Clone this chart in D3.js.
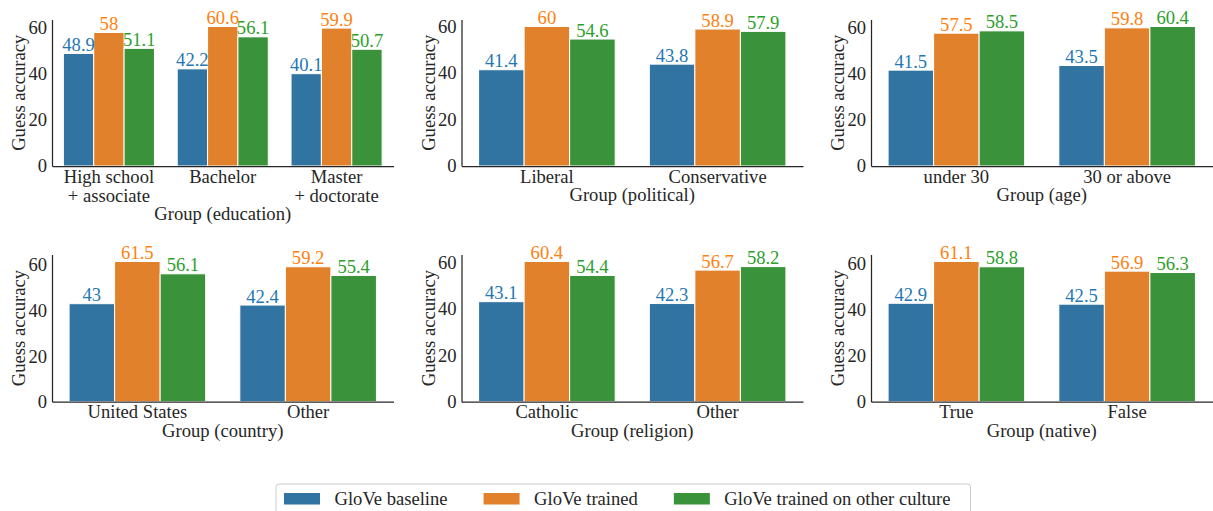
<!DOCTYPE html>
<html>
<head>
<meta charset="utf-8">
<script src="https://cdn.jsdelivr.net/npm/d3@7"></script>
<style>
  body { margin: 0; background: #fff; }
  svg { display: block; }
</style>
</head>
<body>
<div id="chart"></div>
<script>
// Chart data, one small set per panel
const seriesNames = ["GloVe baseline", "GloVe trained", "GloVe trained on other culture"];
const yTicks = [0, 20, 40, 60];

const educationGroups = ["High school\n+ associate", "Bachelor", "Master\n+ doctorate"];
const educationBaseline = [48.9, 42.2, 40.1];
const educationTrained = [58, 60.6, 59.9];
const educationOther = [51.1, 56.1, 50.7];

const politicalGroups = ["Liberal", "Conservative"];
const politicalBaseline = [41.4, 43.8];
const politicalTrained = [60, 58.9];
const politicalOther = [54.6, 57.9];

const ageGroups = ["under 30", "30 or above"];
const ageBaseline = [41.5, 43.5];
const ageTrained = [57.5, 59.8];
const ageOther = [58.5, 60.4];

const countryGroups = ["United States", "Other"];
const countryBaseline = [43, 42.4];
const countryTrained = [61.5, 59.2];
const countryOther = [56.1, 55.4];

const religionGroups = ["Catholic", "Other"];
const religionBaseline = [43.1, 42.3];
const religionTrained = [60.4, 56.7];
const religionOther = [54.4, 58.2];

const nativeGroups = ["True", "False"];
const nativeBaseline = [42.9, 42.5];
const nativeTrained = [61.1, 56.9];
const nativeOther = [58.8, 56.3];

const panels = [
  { title: "Group (education)", groups: educationGroups, values: [educationBaseline, educationTrained, educationOther] },
  { title: "Group (political)", groups: politicalGroups, values: [politicalBaseline, politicalTrained, politicalOther] },
  { title: "Group (age)", groups: ageGroups, values: [ageBaseline, ageTrained, ageOther] },
  { title: "Group (country)", groups: countryGroups, values: [countryBaseline, countryTrained, countryOther] },
  { title: "Group (religion)", groups: religionGroups, values: [religionBaseline, religionTrained, religionOther] },
  { title: "Group (native)", groups: nativeGroups, values: [nativeBaseline, nativeTrained, nativeOther] }
];

// Layout
const width = 1213, height = 511;
const colLeft = [52, 461.5, 871], panelWidth = 341.5;
const rowTop = [19.5, 254.5], rowBottom = [166, 401.7];
const fontSize = 18.6;
const serif = "'Liberation Serif', 'Times New Roman', serif";
const ink = "#262626";

const barColor = d3.scaleOrdinal().domain(seriesNames).range(["#3274a1", "#e1812c", "#3a923a"]);
const labelColor = d3.scaleOrdinal().domain(seriesNames).range(["#1f77b4", "#ff7f0e", "#2ca02c"]);

const svg = d3.select("#chart")
  .append("svg")
  .attr("width", width)
  .attr("height", height);

panels.forEach((p, k) => {
  const left = colLeft[k % 3], top = rowTop[Math.floor(k / 3)], bottom = rowBottom[Math.floor(k / 3)];
  const g = svg.append("g");

  // flat rows for the bars
  const rows = [];
  p.groups.forEach((grp, i) => {
    seriesNames.forEach((s, j) => rows.push({ group: grp, series: s, value: p.values[j][i] }));
  });

  const x0 = d3.scaleBand()
    .domain(p.groups)
    .range([left, left + panelWidth])
    .paddingInner(0.2)
    .paddingOuter(0.1);

  const x1 = d3.scaleBand()
    .domain(seriesNames)
    .range([0, x0.bandwidth()]);

  const y = d3.scaleLinear()
    .domain([0, d3.max(rows, d => d.value) * 1.05])
    .range([bottom, top]);

  // bars
  g.selectAll("rect.bar")
    .data(rows)
    .join("rect")
    .attr("class", "bar")
    .attr("x", d => x0(d.group) + x1(d.series))
    .attr("y", d => y(d.value))
    .attr("width", x1.bandwidth())
    .attr("height", d => y(0) - y(d.value))
    .attr("fill", d => barColor(d.series))
    .attr("stroke", "#fff")
    .attr("stroke-width", 1);

  // value labels
  g.selectAll("text.val")
    .data(rows)
    .join("text")
    .attr("class", "val")
    .attr("x", d => x0(d.group) + x1(d.series) + x1.bandwidth() / 2)
    .attr("y", d => y(d.value) - 2.5)
    .attr("text-anchor", "middle")
    .style("font-family", serif)
    .style("font-size", fontSize + "px")
    .attr("fill", d => labelColor(d.series))
    .text(d => String(d.value));

  // y axis (no tick marks)
  const yAxis = g.append("g")
    .attr("transform", `translate(${left},0)`)
    .call(d3.axisLeft(y).tickValues(yTicks).tickSize(0).tickPadding(5));
  yAxis.select(".domain").attr("stroke", ink).attr("stroke-width", 1.25);
  yAxis.selectAll("text")
    .style("font-family", serif)
    .style("font-size", fontSize + "px")
    .attr("fill", ink);

  // x axis
  const xAxis = g.append("g")
    .attr("transform", `translate(0,${bottom})`)
    .call(d3.axisBottom(x0).tickSize(0).tickFormat(""));
  xAxis.select(".domain").attr("stroke", ink).attr("stroke-width", 1.25);

  // multi-line tick labels
  let maxLines = 1;
  p.groups.forEach(grp => {
    const lines = grp.split("\n");
    maxLines = Math.max(maxLines, lines.length);
    const t = g.append("text")
      .attr("x", x0(grp) + x0.bandwidth() / 2)
      .attr("y", bottom + 16.7)
      .attr("text-anchor", "middle")
      .style("font-family", serif)
      .style("font-size", fontSize + "px")
      .attr("fill", ink);
    lines.forEach((ln, li) => {
      t.append("tspan")
        .attr("x", x0(grp) + x0.bandwidth() / 2)
        .attr("dy", li === 0 ? 0 : 19)
        .text(ln);
    });
  });

  // x title
  g.append("text")
    .attr("x", left + panelWidth / 2)
    .attr("y", bottom + 16.7 + (maxLines - 1) * 19 + 18.3)
    .attr("text-anchor", "middle")
    .style("font-family", serif)
    .style("font-size", fontSize + "px")
    .attr("fill", ink)
    .text(p.title);

  // y title
  g.append("text")
    .attr("transform", `translate(${left - 27},${(top + bottom) / 2}) rotate(-90)`)
    .attr("text-anchor", "middle")
    .style("font-family", serif)
    .style("font-size", fontSize + "px")
    .attr("fill", ink)
    .text("Guess accuracy");
});

// Legend along the bottom
const legend = svg.append("g");
const legendFrame = legend.append("rect")
  .attr("x", 276)
  .attr("y", 484)
  .attr("height", 40)
  .attr("rx", 3)
  .attr("fill", "#fff")
  .attr("stroke", "#cccccc")
  .attr("stroke-width", 1);

let lx = 284;
seriesNames.forEach(s => {
  legend.append("rect")
    .attr("x", lx)
    .attr("y", 493)
    .attr("width", 36)
    .attr("height", 11.5)
    .attr("fill", barColor(s));
  const t = legend.append("text")
    .attr("x", lx + 36 + 14.5)
    .attr("y", 504.5)
    .style("font-family", serif)
    .style("font-size", fontSize + "px")
    .attr("fill", ink)
    .text(s);
  lx = lx + 36 + 14.5 + t.node().getComputedTextLength() + 36;
});
legendFrame.attr("width", lx - 36 + 20 - 276);
</script>
</body>
</html>
